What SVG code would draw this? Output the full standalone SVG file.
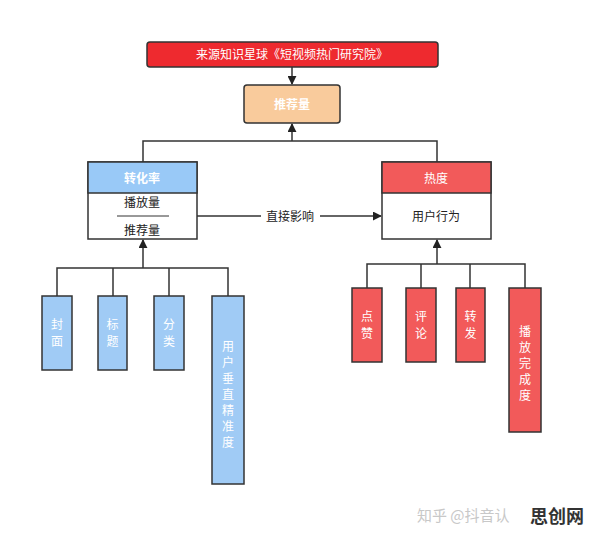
<svg xmlns="http://www.w3.org/2000/svg" width="596" height="540" viewBox="0 0 596 540">
<style>
text{font-family:"Noto Sans CJK SC","Liberation Sans",sans-serif}
.box{stroke:#333;stroke-width:1.5}
.wt{fill:#fff;font-size:12px;text-anchor:middle}
.dt{fill:#222;font-size:12px;text-anchor:middle}
.ln{stroke:#333;stroke-width:1.5;fill:none}
.blue{fill:#a0cbf5}
.red{fill:#f25a5a}
</style>
<defs>
<marker id="ah" viewBox="0 0 10 10" refX="9" refY="5" markerWidth="9" markerHeight="9" markerUnits="userSpaceOnUse" orient="auto"><path d="M0,0 L10,5 L0,10 z" fill="#222"/></marker>
</defs>
<rect width="596" height="540" fill="#fff"/>
<g id="connectors">
<line class="ln" x1="292" y1="67" x2="292" y2="84" marker-end="url(#ah)"/>
<line class="ln" x1="292" y1="141" x2="292" y2="124" marker-end="url(#ah)"/>
<polyline class="ln" points="143,163 143,141 437,141 437,163"/>
<line class="ln" x1="197" y1="216" x2="261" y2="216"/>
<line class="ln" x1="320" y1="216" x2="381" y2="216" marker-end="url(#ah)"/>
<text x="290" y="221" class="dt" font-size="13">直接影响</text>
<line class="ln" x1="143" y1="268" x2="143" y2="240" marker-end="url(#ah)"/>
<polyline class="ln" points="57,296 57,268 228,268 228,296"/>
<line class="ln" x1="113" y1="268" x2="113" y2="296"/>
<line class="ln" x1="169" y1="268" x2="169" y2="296"/>
<line class="ln" x1="437" y1="264" x2="437" y2="240" marker-end="url(#ah)"/>
<polyline class="ln" points="367,288 367,264 525,264 525,288"/>
<line class="ln" x1="421" y1="264" x2="421" y2="288"/>
<line class="ln" x1="470" y1="264" x2="470" y2="288"/>
</g>
<g id="source">
<rect class="box" x="147" y="42" width="291" height="25" rx="3" fill="#ee2a2f"/>
<text x="292" y="59" class="wt">来源知识星球《短视频热门研究院》</text>
</g>
<g id="tuijianliang">
<rect class="box" x="244" y="85" width="96" height="38" rx="3" fill="#f9cb9c"/>
<text x="292" y="109" class="wt" font-weight="bold" font-size="13">推荐量</text>
</g>
<g id="zhuanhualv">
<rect class="box" x="88" y="162" width="109" height="77" fill="#fff"/>
<rect class="box" x="88" y="162" width="109" height="31" fill="#99c9f7"/>
<text x="142" y="183" class="wt" font-weight="bold" font-size="13">转化率</text>
<text x="142" y="207" class="dt">播放量</text>
<line x1="117" y1="216" x2="169" y2="216" stroke="#333" stroke-width="1"/>
<text x="142" y="235" class="dt">推荐量</text>
</g>
<g id="redu">
<rect class="box" x="382" y="162" width="109" height="77" fill="#fff"/>
<rect class="box" x="382" y="162" width="109" height="31" fill="#f25a5a"/>
<text x="436" y="183" class="wt" font-size="13">热度</text>
<text x="436" y="221" class="dt">用户行为</text>
</g>
<g id="fengmian">
<rect class="box blue" x="42" y="296" width="30" height="74"/>
<text class="wt"><tspan x="57" y="329">封</tspan><tspan x="57" y="346">面</tspan></text>
</g>
<g id="biaoti">
<rect class="box blue" x="98" y="296" width="29" height="74"/>
<text class="wt"><tspan x="112.5" y="329">标</tspan><tspan x="112.5" y="346">题</tspan></text>
</g>
<g id="fenlei">
<rect class="box blue" x="154" y="296" width="30" height="74"/>
<text class="wt"><tspan x="169" y="329">分</tspan><tspan x="169" y="346">类</tspan></text>
</g>
<g id="chuizhi">
<rect class="box blue" x="212" y="296" width="32" height="188"/>
<text class="wt" font-size="11.5"><tspan x="228" y="351">用</tspan><tspan x="228" y="367">户</tspan><tspan x="228" y="383">垂</tspan><tspan x="228" y="399">直</tspan><tspan x="228" y="415">精</tspan><tspan x="228" y="431">准</tspan><tspan x="228" y="447">度</tspan></text>
</g>
<g id="dianzan">
<rect class="box red" x="352" y="288" width="30" height="74"/>
<text class="wt"><tspan x="367" y="321">点</tspan><tspan x="367" y="338">赞</tspan></text>
</g>
<g id="pinglun">
<rect class="box red" x="406" y="288" width="30" height="74"/>
<text class="wt"><tspan x="421" y="321">评</tspan><tspan x="421" y="338">论</tspan></text>
</g>
<g id="zhuanfa">
<rect class="box red" x="456" y="288" width="29" height="74"/>
<text class="wt"><tspan x="470.5" y="321">转</tspan><tspan x="470.5" y="338">发</tspan></text>
</g>
<g id="wancheng">
<rect class="box red" x="509" y="288" width="32" height="144"/>
<text class="wt" font-size="11.5"><tspan x="525" y="336">播</tspan><tspan x="525" y="352">放</tspan><tspan x="525" y="368">完</tspan><tspan x="525" y="384">成</tspan><tspan x="525" y="400">度</tspan></text>
</g>
<g id="watermark">
<text x="417" y="521" font-size="15" fill="#c8c8c8">知乎 @抖音认</text>
<text x="530" y="523" font-size="18" font-weight="bold" fill="#333">思创网</text>
</g>
</svg>
